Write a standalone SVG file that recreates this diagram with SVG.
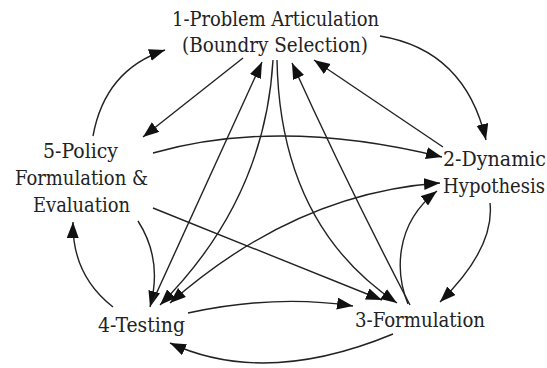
<svg xmlns="http://www.w3.org/2000/svg" width="547" height="368" viewBox="0 0 547 368">
  <style>
    .edge { fill: none; stroke: #222; stroke-width: 1.4; marker-end: url(#arrow); }
    .lbl { font-family: "DejaVu Serif Condensed", "DejaVu Serif", "Liberation Serif", serif; font-stretch: condensed; font-size: 20.5px; fill: #222; text-anchor: middle; }
  </style>
  <defs>
    <marker id="arrow" markerUnits="userSpaceOnUse" markerWidth="17" markerHeight="13" refX="16" refY="6" orient="auto-start-reverse">
      <path d="M0,0 L16,6 L0,12 z" fill="#111"/>
    </marker>
  </defs>
  <rect width="547" height="368" fill="#fff"/>

  <g id="connectors">
    <!-- outer ring -->
    <path id="e5-1" class="edge" d="M93,136 Q105,70 165,50"/>
    <path id="e1-2" class="edge" d="M380,36 Q465,50 486,140"/>
    <path id="e2-3" class="edge" d="M490,203 Q495,248 440,302"/>
    <path id="e3-4" class="edge" d="M393,334 Q265,387 170,343"/>
    <path id="e4-5" class="edge" d="M113,307 Q72,275 73,222"/>
    <!-- inner links -->
    <path id="e1-5" class="edge" d="M243,58 L143,137"/>
    <path id="e2-1" class="edge" d="M443,147 L314,60"/>
    <path id="e5-2" class="edge" d="M153,153 Q280,117 442,157"/>
    <path id="e5-3" class="edge" d="M153,208 L382,300"/>
    <path id="e5-4" class="edge" d="M138,221 Q163,260 150,307"/>
    <path id="e4-3" class="edge" d="M188,313 Q275,294 353,306"/>
    <path id="e4-1" class="edge" d="M152,303 L262,62"/>
    <path id="e1-4" class="edge" d="M273,60 Q265,200 160,305"/>
    <path id="e1-3" class="edge" d="M277,60 Q280,225 397,303"/>
    <path id="e3-1" class="edge" d="M410,305 Q345,180 292,63"/>
    <path id="e2-4" class="edge" d="M440,183 Q295,193 170,303" style="marker-start: url(#arrow)"/>
    <path id="e3-2" class="edge" d="M408,304 C396,275 393,225 437,191"/>
  </g>

  <g id="node1">
    <text class="lbl" x="275.5" y="26" textLength="207" lengthAdjust="spacingAndGlyphs">1-Problem Articulation</text>
    <text class="lbl" x="275" y="52" textLength="186" lengthAdjust="spacingAndGlyphs">(Boundry Selection)</text>
  </g>
  <g id="node2">
    <text class="lbl" x="494.5" y="166" textLength="103" lengthAdjust="spacingAndGlyphs">2-Dynamic</text>
    <text class="lbl" x="494" y="193" textLength="102" lengthAdjust="spacingAndGlyphs">Hypothesis</text>
  </g>
  <g id="node3">
    <text class="lbl" x="420" y="327" textLength="130" lengthAdjust="spacingAndGlyphs">3-Formulation</text>
  </g>
  <g id="node4">
    <text class="lbl" x="141.5" y="332" textLength="87" lengthAdjust="spacingAndGlyphs">4-Testing</text>
  </g>
  <g id="node5">
    <text class="lbl" x="80.5" y="158" textLength="75" lengthAdjust="spacingAndGlyphs">5-Policy</text>
    <text class="lbl" x="81.5" y="185" textLength="133" lengthAdjust="spacingAndGlyphs">Formulation &amp;</text>
    <text class="lbl" x="81.5" y="212" textLength="97" lengthAdjust="spacingAndGlyphs">Evaluation</text>
  </g>
</svg>
